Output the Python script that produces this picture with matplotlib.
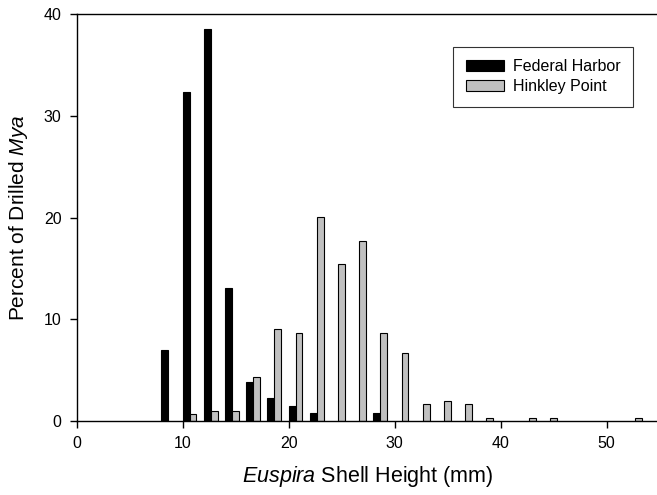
import numpy as np
import matplotlib
matplotlib.use('Agg')
from matplotlib import pyplot as plt

plt.rcParams['font.family'] = 'Liberation Sans'
plt.rcParams['mathtext.fontset'] = 'custom'
plt.rcParams['mathtext.rm'] = 'Liberation Sans'
plt.rcParams['mathtext.it'] = 'Liberation Sans:italic'

# shell height bins (mm), left edge of each bar pair
federal_x = [8, 10, 12, 14, 16, 18, 20, 22, 28]
federal_pct = [7.0, 32.3, 38.5, 13.1, 3.8, 2.3, 1.5, 0.8, 0.8]

hinkley_x = [10, 12, 14, 16, 18, 20, 22, 24, 26, 28, 30, 32, 34, 36, 38, 42, 44, 52]
hinkley_pct = [0.67, 1.0, 1.0, 4.33, 9.0, 8.67, 20.1, 15.4, 17.7, 8.67, 6.67,
               1.67, 2.0, 1.67, 0.33, 0.33, 0.33, 0.33]

w = 0.65

fig = plt.figure(figsize=(6.57, 4.95), dpi=100)
ax = fig.add_axes([0.1167, 0.1495, 0.8874, 0.822])

ax.bar(np.array(federal_x), federal_pct, width=w, align='edge',
       color='black', edgecolor='black', linewidth=0.8, label='Federal Harbor')
ax.bar(np.array(hinkley_x) + w, hinkley_pct, width=w, align='edge',
       color='#c0c0c0', edgecolor='black', linewidth=0.8, label='Hinkley Point')

ax.set_xlim(0, 55)
ax.set_ylim(0, 40)
ax.set_xticks([0, 10, 20, 30, 40, 50])
ax.set_yticks([0, 10, 20, 30, 40])
ax.tick_params(direction='out', length=5, width=1, labelsize=11.5, pad=6)
ax.spines['right'].set_visible(False)
for s in ['top', 'left', 'bottom']:
    ax.spines[s].set_linewidth(1)

ax.set_xlabel(r'$\it{Euspira}$ Shell Height (mm)', fontsize=15.5, labelpad=9)
ax.set_ylabel(r'Percent of Drilled $\it{Mya}$', fontsize=15, labelpad=10)

leg = fig.legend(loc='upper left', bbox_to_anchor=(453 / 657, 1 - 46.7 / 495),
                 borderaxespad=0, fontsize=11.5,
                 frameon=True, fancybox=False, edgecolor='black',
                 handlelength=2.4, handleheight=0.7, borderpad=0.8,
                 labelspacing=0.3, handletextpad=0.55)
leg.get_frame().set_linewidth(0.8)

fig.savefig('out.png', dpi=100)
